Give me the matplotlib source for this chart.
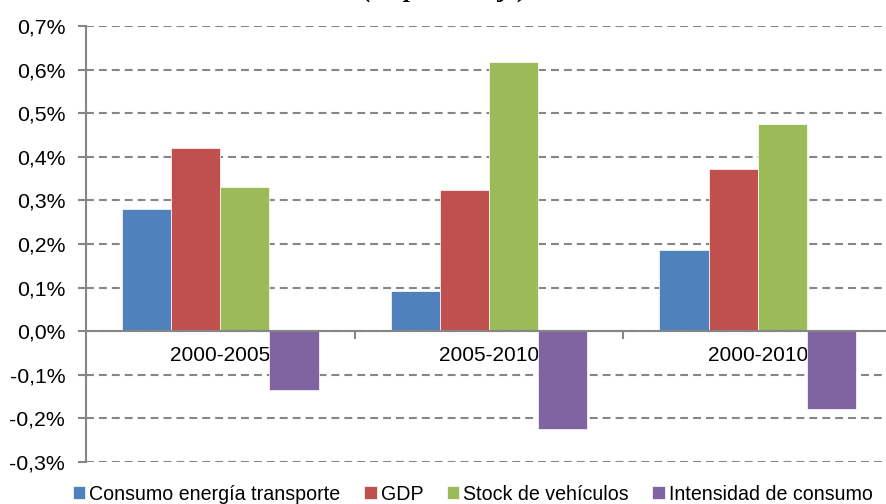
import numpy as np
import matplotlib.pyplot as plt

periods = ['2000-2005', '2005-2010', '2000-2010']
series = ['Consumo energía transporte', 'GDP', 'Stock de vehículos', 'Intensidad de consumo']
colors = ['#4F81BD', '#C0504D', '#9BBB59', '#8064A2']

consumo = [0.280, 0.092, 0.186]
gdp = [0.420, 0.323, 0.372]
stock = [0.330, 0.617, 0.475]
intensidad = [-0.135, -0.225, -0.179]

yticks = [-0.3, -0.2, -0.1, 0.0, 0.1, 0.2, 0.3, 0.4, 0.5, 0.6, 0.7]

plt.rcParams['font.family'] = ['Liberation Sans', 'DejaVu Sans']
grey = '#868686'

fig = plt.figure(figsize=(8.87, 5.04), dpi=100)
ax = fig.add_axes([86 / 887, 1 - 462 / 504, 806 / 887, 436 / 504])

x = np.arange(len(periods))
w = 0.183
for i, (vals, name) in enumerate(zip([consumo, gdp, stock, intensidad], series)):
    ax.bar(x + (i - 1.5) * w, vals, w, color=colors[i], label=name,
           edgecolor='white', linewidth=0.5, zorder=2)

ax.set_xlim(-0.5, 2.5)
ax.set_ylim(-0.3, 0.7)
ax.set_yticks(yticks)
ax.set_yticklabels([('%.1f%%' % v).replace('.', ',') for v in yticks], fontsize=15.3)

ax.set_axisbelow(True)
ax.yaxis.grid(True, color=grey, linewidth=1.5, linestyle=(0, (3.8, 2.4)))

for s in ['top', 'right']:
    ax.spines[s].set_visible(False)
ax.spines['left'].set_color(grey)
ax.spines['left'].set_linewidth(1.5)
ax.spines['bottom'].set_position(('data', 0))
ax.spines['bottom'].set_color(grey)
ax.spines['bottom'].set_linewidth(1.5)
ax.spines['bottom'].set_zorder(3)

ax.tick_params(axis='y', direction='out', length=6, width=1.5, color=grey, pad=9)
ax.set_xticks(x)
ax.set_xticklabels(periods, fontsize=15)
ax.set_xticks([0.5, 1.5], minor=True)
ax.tick_params(axis='x', which='major', length=0, pad=11)
ax.tick_params(axis='x', which='minor', direction='out', length=6, width=1.5, color=grey)

fig.text(0.502, 1 + 3.5 / 504, '(en porcentaje)', ha='center', va='baseline',
         fontsize=19, style='italic', fontweight='bold', family='Liberation Serif')

fig.legend(loc='center', bbox_to_anchor=(0.533, 1 - 494 / 504), ncol=4, frameon=False,
           fontsize=14.1, handlelength=0.65, handleheight=0.65, handletextpad=0.2,
           columnspacing=1.2, borderpad=0)

fig.savefig('out.png', dpi=100)
